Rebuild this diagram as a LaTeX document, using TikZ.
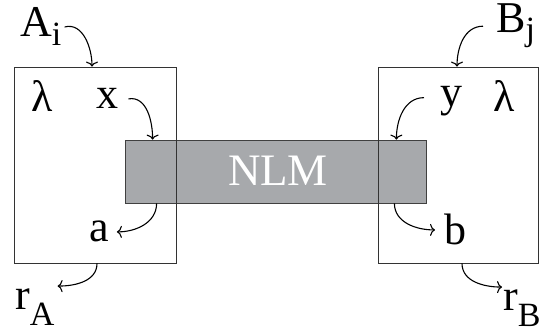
\documentclass[tikz,border=0pt]{standalone}
\usepackage{fontspec}
\setmainfont{Liberation Serif}
\usetikzlibrary{arrows.meta}
\newcommand{\lowsub}[2]{\raisebox{-#1}{\fontsize{34}{34}\selectfont #2}}

\begin{document}
\begin{tikzpicture}[x=1pt,y=1pt,
  party/.style={draw=black!80,line width=0.8pt,minimum width=#1,minimum height=196pt,inner sep=0pt},
  lbl/.style={font=\fontsize{44}{48}\selectfont,inner sep=3pt,anchor=base west},
  flow/.style={-{To[length=5pt,width=12pt]},line width=1.1pt}]
\useasboundingbox (0,0) rectangle (541,334);
% the shared box
\node (nlm) [fill={rgb,255:red,167;green,169;blue,172},draw=black!75,line width=0.8pt,minimum width=301pt,minimum height=63pt,inner sep=0pt] at (275.5,162.5) {};
\node (nlmtext) [font=\fontsize{45}{48}\selectfont,text=white,inner sep=0pt,anchor=base] at (278,148) {NLM};
%
\node (alice) [party=162pt] at (95,169) {};
\node (bob) [party=160pt] at (458,169) {};
%
\node (ai) [lbl] at (17,297) {A\lowsub{9pt}{i}};
\node (bj) [lbl] at (493,301) {B\lowsub{8pt}{j}};
\node (lamA) [lbl] at (28,222) {λ};
\node (x) [lbl] at (93,225) {x};
\node (a) [lbl] at (86,92) {a};
\node (y) [lbl] at (437,227) {y};
\node (lamB) [lbl] at (490,222) {λ};
\node (b) [lbl] at (441,89) {b};
\node (rA) [lbl] at (12,24) {r\lowsub{16pt}{A}};
\node (rB) [lbl] at (500,23) {r\lowsub{16pt}{B}};
%
\draw[flow] (ai.east) to[out=15,in=90] ([xshift=-3pt]alice.north);
\draw[flow] ([xshift=7pt]x.east) to[out=10,in=90] ([xshift=28pt]nlm.north west);
\draw[flow] ([xshift=32pt]nlm.south west) to[out=-90,in=0] ([xshift=5pt]a.east);
\draw[flow] ([xshift=2pt]alice.south) to[out=-90,in=0] (rA.north east);
\draw[flow] ([xshift=-10pt]bj.west) to[out=180,in=90] ([xshift=-1pt]bob.north);
\draw[flow] ([xshift=-13pt,yshift=4pt]y.west) to[out=180,in=90] ([xshift=-30pt]nlm.north east);
\draw[flow] ([xshift=-32pt]nlm.south east) to[out=-90,in=180] ([xshift=-6pt]b.west);
\draw[flow] ([xshift=4pt]bob.south) to[out=-90,in=180] ([xshift=2pt]rB.north west);
\end{tikzpicture}
\end{document}
